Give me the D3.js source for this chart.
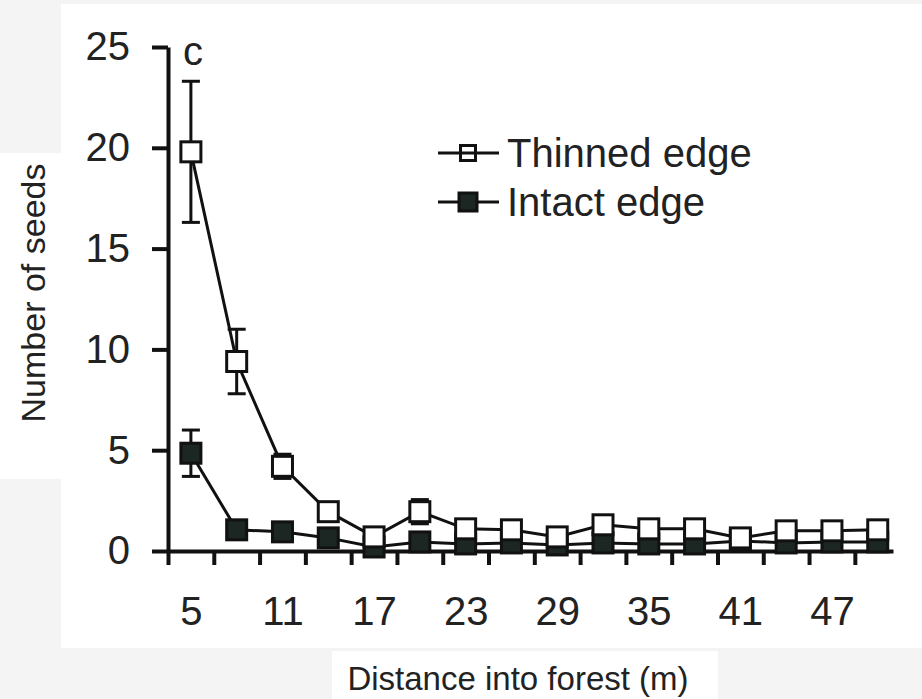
<!DOCTYPE html>
<html>
<head>
<meta charset="utf-8">
<script src="https://cdn.jsdelivr.net/npm/d3@7"></script>
<style>
  body { margin: 0; background: #f4f4f4; }
  svg { display: block; font-family: "Liberation Sans", Arial, sans-serif; }
</style>
</head>
<body>
<svg id="chart" width="922" height="699"></svg>
<script>
// distance bins (m) and mean seed counts
var distances = [5, 8, 11, 14, 17, 20, 23, 26, 29, 32, 35, 38, 41, 44, 47, 50];
var thinned    = [19.8, 9.4, 4.2, 1.95, 0.7, 1.95, 1.1, 1.05, 0.7, 1.3, 1.1, 1.1, 0.65, 1.0, 1.0, 1.05];
var thinnedErr = [3.5, 1.6, 0.6, 0.3, 0.2, 0.6, 0.3, 0.2, 0.2, 0.3, 0.2, 0.2, 0.1, 0.2, 0.2, 0.2];
var intact     = [4.85, 1.05, 0.95, 0.65, 0.2, 0.45, 0.35, 0.4, 0.3, 0.4, 0.35, 0.35, 0.5, 0.4, 0.45, 0.45];
var intactErr  = [1.15, 0.2, 0.2, 0.3, 0.1, 0.2, 0.1, 0.1, 0.1, 0.1, 0.1, 0.1, 0.1, 0.1, 0.1, 0.1];
var yTicks = [0, 5, 10, 15, 20, 25];
var xLabels = [5, 11, 17, 23, 29, 35, 41, 47];
var xTicks = d3.range(3.5, 49, 3);

var svg = d3.select("#chart");

// white panels of the scanned figure
svg.append("rect").attr("x", 61).attr("y", 4).attr("width", 861).attr("height", 644).attr("fill", "#fff");
svg.append("rect").attr("x", 0).attr("y", 153).attr("width", 61).attr("height", 326).attr("fill", "#fff");
svg.append("rect").attr("x", 332).attr("y", 651).attr("width", 386).attr("height", 48).attr("fill", "#fff");

var x = d3.scaleLinear().domain([3.5, 51]).range([168, 893]);
var y = d3.scaleLinear().domain([0, 25]).range([551, 47]);

var ink = "#111";

// axes
var gy = svg.append("g").attr("transform", "translate(" + x(3.5) + ",0)")
    .call(d3.axisLeft(y).tickValues(yTicks).tickSize(16).tickSizeOuter(0).tickPadding(22));
var gx = svg.append("g").attr("transform", "translate(0," + y(0) + ")")
    .call(d3.axisBottom(x).tickValues(xTicks).tickSize(14).tickSizeOuter(0).tickFormat(""));
var gl = svg.append("g").attr("transform", "translate(0," + y(0) + ")")
    .call(d3.axisBottom(x).tickValues(xLabels).tickSize(0).tickPadding(46));
gl.select(".domain").remove();

[gy, gx].forEach(function(g) {
    g.select(".domain").attr("stroke", ink).attr("stroke-width", 4);
    g.selectAll(".tick line").attr("stroke", ink).attr("stroke-width", 4);
});
svg.selectAll(".tick text").attr("fill", "#222").style("font-size", "40px");

// axis titles and panel letter
svg.append("text")
    .attr("transform", "translate(45,293)rotate(-90)")
    .attr("text-anchor", "middle")
    .attr("fill", "#222")
    .style("font-size", "34px")
    .text("Number of seeds");

svg.append("text")
    .attr("x", 518).attr("y", 690)
    .attr("text-anchor", "middle")
    .attr("fill", "#222")
    .style("font-size", "33px")
    .text("Distance into forest (m)");

svg.append("text")
    .attr("x", 183).attr("y", 65)
    .attr("fill", "#222")
    .style("font-size", "40px")
    .text("c");

var line = d3.line()
    .x(function(d, i) { return x(distances[i]); })
    .y(function(d) { return y(d); });

function drawSeries(vals, errs, fill, size) {
    var g = svg.append("g");
    g.append("path").datum(vals)
        .attr("d", line)
        .attr("fill", "none")
        .attr("stroke", ink)
        .attr("stroke-width", 3);

    var eb = g.selectAll(".err").data(vals).enter().append("g");
    eb.append("line")
        .attr("x1", function(d, i) { return x(distances[i]); })
        .attr("x2", function(d, i) { return x(distances[i]); })
        .attr("y1", function(d, i) { return y(d + errs[i]); })
        .attr("y2", function(d, i) { return y(Math.max(0, d - errs[i])); })
        .attr("stroke", ink).attr("stroke-width", 3);
    [1, -1].forEach(function(s) {
        eb.append("line")
            .attr("x1", function(d, i) { return x(distances[i]) - 9; })
            .attr("x2", function(d, i) { return x(distances[i]) + 9; })
            .attr("y1", function(d, i) { return y(Math.max(0, d + s * errs[i])); })
            .attr("y2", function(d, i) { return y(Math.max(0, d + s * errs[i])); })
            .attr("stroke", ink).attr("stroke-width", 3);
    });

    g.selectAll("rect").data(vals).enter().append("rect")
        .attr("x", function(d, i) { return x(distances[i]) - size / 2; })
        .attr("y", function(d) { return y(d) - size / 2; })
        .attr("width", size).attr("height", size)
        .attr("fill", fill)
        .attr("stroke", ink)
        .attr("stroke-width", 3);
}

drawSeries(intact, intactErr, "#1c2622", 20);
drawSeries(thinned, thinnedErr, "#fff", 20);

// legend
var legend = [
    {label: "Thinned edge", fill: "none", size: 15, y: 153},
    {label: "Intact edge", fill: "#1c2622", size: 18, y: 202}
];
var lg = svg.selectAll(".legend").data(legend).enter().append("g");
lg.append("line")
    .attr("x1", 438).attr("x2", 499)
    .attr("y1", function(d) { return d.y; }).attr("y2", function(d) { return d.y; })
    .attr("stroke", ink).attr("stroke-width", 3);
lg.append("rect")
    .attr("x", function(d) { return 468 - d.size / 2; })
    .attr("y", function(d) { return d.y - d.size / 2; })
    .attr("width", function(d) { return d.size; })
    .attr("height", function(d) { return d.size; })
    .attr("fill", function(d) { return d.fill; })
    .attr("stroke", ink).attr("stroke-width", 3);
lg.append("text")
    .attr("x", 507)
    .attr("y", function(d) { return d.y + 14; })
    .attr("fill", "#222")
    .style("font-size", "40px")
    .text(function(d) { return d.label; });
</script>
</body>
</html>
